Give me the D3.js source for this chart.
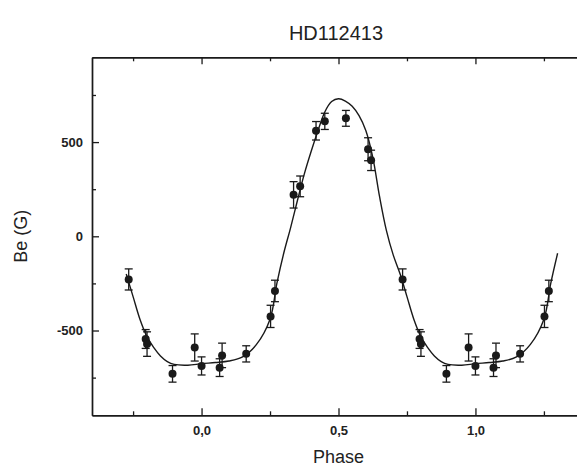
<!DOCTYPE html>
<html>
<head>
<meta charset="utf-8">
<script src="https://cdn.jsdelivr.net/npm/d3@7"></script>
<style>
  body { margin: 0; background: #fff; }
  svg { display: block; font-family: "Liberation Sans", Arial, sans-serif; }
</style>
</head>
<body>
<svg id="chart" width="577" height="466"></svg>
<script>
// measured points (phase, longitudinal field Be in G, 1-sigma error)
const obsPhase = [-0.266, -0.204, -0.199, -0.106, -0.025, 0.000, 0.066, 0.075, 0.163, 0.252, 0.268,
                  0.336, 0.360, 0.418, 0.450, 0.527, 0.608, 0.619,
                  0.734, 0.796, 0.801, 0.894, 0.975, 1.000, 1.066, 1.075, 1.163, 1.252, 1.268];
const obsBe    = [-229, -545, -572, -730, -590, -688, -697, -632, -624, -425, -290,
                  220, 265, 560, 610, 626, 462, 403,
                  -229, -545, -572, -730, -590, -688, -697, -632, -624, -425, -290];
const obsErr   = [56, 50, 65, 44, 72, 48, 47, 65, 43, 59, 57,
                  70, 55, 49, 43, 42, 61, 54,
                  56, 50, 65, 44, 72, 48, 47, 65, 43, 59, 57];

// fitted curve, one period
const fitPhase = [0.00, 0.05, 0.10, 0.15, 0.20, 0.25, 0.275, 0.30, 0.325, 0.35, 0.375, 0.40, 0.425,
                  0.45, 0.475, 0.50, 0.525, 0.55, 0.575, 0.60, 0.625, 0.65, 0.675, 0.70, 0.725,
                  0.75, 0.775, 0.80, 0.825, 0.85, 0.875, 0.90, 0.95];
const fitBe    = [-676, -670, -662, -640, -575, -440, -250, -90, 45, 190, 330, 450, 560,
                  660, 715, 730, 718, 690, 640, 560, 420, 210, 30, -100, -200,
                  -320, -440, -530, -590, -635, -665, -680, -684];

const xMajor = [0, 0.5, 1];
const xMinor = [-0.25, 0.25, 0.75, 1.25];
const yMajor = [-500, 0, 500];
const yMinor = [-750, -250, 250, 750];

const titleText = "HD112413";
const xTitle = "Phase";
const yTitle = "Be (G)";

const ink = "#1a1a1a";
const plotL = 92, plotR = 585, plotT = 57.3, plotB = 415.3;

const svg = d3.select("#chart");

const x = d3.scaleLinear().domain([-0.4, 1.4]).range([plotL, plotR]);
const y = d3.scaleLinear().domain([-950, 950]).range([plotB, plotT]);

const loc = d3.formatLocale({ decimal: ",", thousands: ".", grouping: [3], currency: ["", ""], minus: "-" });
const fmtX = loc.format(".1f");
const fmtY = loc.format("d");

// minor ticks, no labels
function minorAxis(axis, vals) {
    return axis.tickValues(vals).tickSizeInner(-4).tickSizeOuter(0).tickFormat("");
}

const gAx = svg.append("g").attr("class", "axes");

gAx.append("g").attr("transform", `translate(0,${plotB})`).call(minorAxis(d3.axisBottom(x), xMinor));
gAx.append("g").attr("transform", `translate(0,${plotT})`).call(minorAxis(d3.axisTop(x), xMinor));
gAx.append("g").attr("transform", `translate(${plotL},0)`).call(minorAxis(d3.axisLeft(y), yMinor));
gAx.append("g").attr("transform", `translate(${plotR},0)`).call(minorAxis(d3.axisRight(y), yMinor));

gAx.append("g").attr("transform", `translate(0,${plotB})`)
    .call(d3.axisBottom(x).tickValues(xMajor).tickSizeInner(-7).tickSizeOuter(0).tickPadding(10).tickFormat(fmtX));
gAx.append("g").attr("transform", `translate(0,${plotT})`)
    .call(d3.axisTop(x).tickValues(xMajor).tickSizeInner(-7).tickSizeOuter(0).tickFormat(""));
gAx.append("g").attr("transform", `translate(${plotL},0)`)
    .call(d3.axisLeft(y).tickValues(yMajor).tickSizeInner(-7).tickSizeOuter(0).tickPadding(9).tickFormat(fmtY));
gAx.append("g").attr("transform", `translate(${plotR},0)`)
    .call(d3.axisRight(y).tickValues(yMajor).tickSizeInner(-7).tickSizeOuter(0).tickFormat(""));

gAx.selectAll("path.domain").attr("stroke", ink).attr("stroke-width", 1.4);
gAx.selectAll(".tick line").attr("stroke", ink).attr("stroke-width", 1.3);
gAx.selectAll(".tick text")
    .attr("fill", "#222")
    .style("font-size", "13px")
    .style("font-weight", "bold")
    .style("font-family", "'Liberation Sans', Arial, sans-serif");

// fitted curve, repeated over the folded phase range
const fitPts = [];
[-1, 0, 1].forEach(shift => {
    fitPhase.forEach((p, i) => {
        const ph = p + shift;
        if (ph >= -0.3 && ph <= 1.3) fitPts.push([ph, fitBe[i]]);
    });
});
fitPts.sort((a, b) => a[0] - b[0]);

const line = d3.line()
    .x(d => x(d[0]))
    .y(d => y(d[1]))
    .curve(d3.curveCatmullRom.alpha(0.5));

svg.append("path")
    .datum(fitPts)
    .attr("d", line)
    .attr("fill", "none")
    .attr("stroke", ink)
    .attr("stroke-width", 1.4);

// error bars + markers
const obs = obsPhase.map((p, i) => ({ p: p, v: obsBe[i], e: obsErr[i] }));
const capW = 4;

const gObs = svg.append("g").attr("class", "obs");
const eb = gObs.selectAll("g.eb").data(obs).enter().append("g").attr("class", "eb")
    .attr("stroke", ink).attr("stroke-width", 1.3);
eb.append("line")
    .attr("x1", d => x(d.p)).attr("x2", d => x(d.p))
    .attr("y1", d => y(d.v - d.e)).attr("y2", d => y(d.v + d.e));
eb.append("line")
    .attr("x1", d => x(d.p) - capW).attr("x2", d => x(d.p) + capW)
    .attr("y1", d => y(d.v + d.e)).attr("y2", d => y(d.v + d.e));
eb.append("line")
    .attr("x1", d => x(d.p) - capW).attr("x2", d => x(d.p) + capW)
    .attr("y1", d => y(d.v - d.e)).attr("y2", d => y(d.v - d.e));

gObs.selectAll("circle").data(obs).enter().append("circle")
    .attr("cx", d => x(d.p))
    .attr("cy", d => y(d.v))
    .attr("r", 4)
    .attr("fill", ink);

// texts
svg.append("text")
    .attr("x", 336).attr("y", 40)
    .attr("text-anchor", "middle")
    .attr("fill", "#222")
    .style("font-size", "20px")
    .text(titleText);

svg.append("text")
    .attr("x", (plotL + plotR) / 2).attr("y", 463)
    .attr("text-anchor", "middle")
    .attr("fill", "#222")
    .style("font-size", "18px")
    .text(xTitle);

svg.append("text")
    .attr("transform", `translate(27,${(plotT + plotB) / 2}) rotate(-90)`)
    .attr("text-anchor", "middle")
    .attr("fill", "#222")
    .style("font-size", "18px")
    .text(yTitle);
</script>
</body>
</html>
